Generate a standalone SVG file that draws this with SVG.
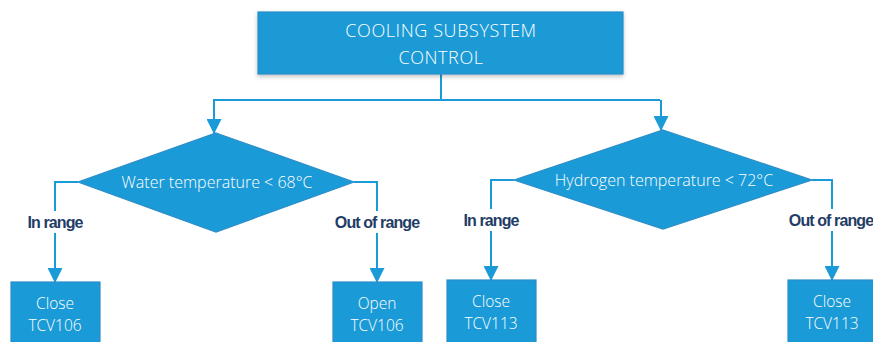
<svg xmlns="http://www.w3.org/2000/svg" width="873" height="342" viewBox="0 0 873 342">
<defs>
<style>
.shape{fill:#1a9ad6;stroke:#2c8ec8;stroke-width:1.2}
.w{fill:#ffffff;font-family:"Open Sans","Liberation Sans",sans-serif;font-weight:300;text-anchor:middle}
.lbl{fill:#1f3d66;font-family:"Liberation Sans",sans-serif;font-weight:bold;font-size:16px;text-anchor:middle;letter-spacing:-0.9px}
.ln{fill:none;stroke:#1a9ad6;stroke-width:2}
</style>
<marker id="ah" markerWidth="15" markerHeight="15" refX="14" refY="7.5" orient="auto" markerUnits="userSpaceOnUse" viewBox="0 0 15 15">
<path d="M0,0 L15,7.5 L0,15 z" fill="#1a9ad6"/>
</marker>
<filter id="sh" x="-10%" y="-20%" width="120%" height="150%">
<feDropShadow dx="0" dy="2" stdDeviation="2" flood-color="#000" flood-opacity="0.25"/>
</filter>
</defs>
<g id="connectors">
<path class="ln" d="M441,74 V100"/>
<path class="ln" d="M213,100 H660"/>
<path class="ln" d="M214,100 V133" marker-end="url(#ah)"/>
<path class="ln" d="M661,100 V130" marker-end="url(#ah)"/>
<path class="ln" d="M78,182 H55 V211"/>
<path class="ln" d="M55,233 V282" marker-end="url(#ah)"/>
<path class="ln" d="M354,182 H377 V211"/>
<path class="ln" d="M377,233 V282" marker-end="url(#ah)"/>
<path class="ln" d="M514,180 H491 V209"/>
<path class="ln" d="M491,231 V280" marker-end="url(#ah)"/>
<path class="ln" d="M812,180 H832 V209"/>
<path class="ln" d="M832,231 V280" marker-end="url(#ah)"/>
<text class="lbl" x="55" y="228">In range</text>
<text class="lbl" x="377" y="228">Out of range</text>
<text class="lbl" x="491" y="226">In range</text>
<text class="lbl" x="831" y="226">Out of range</text>
</g>
<g id="top">
<rect class="shape" x="258" y="12" width="365" height="62" filter="url(#sh)"/>
<text class="w" x="441" y="37" font-size="18" letter-spacing="0.6">COOLING SUBSYSTEM</text>
<text class="w" x="441" y="64" font-size="18" letter-spacing="0.6">CONTROL</text>
</g>
<g id="d1">
<polygon class="shape" points="216,133 354,182 216,232 78,182"/>
<text class="w" x="217" y="188" font-size="16">Water temperature &lt; 68°C</text>
</g>
<g id="d2">
<polygon class="shape" points="663,130 812,180 663,229 514,180"/>
<text class="w" x="664" y="186" font-size="16">Hydrogen temperature &lt; 72°C</text>
</g>
<g id="b1">
<rect class="shape" x="11" y="282" width="89" height="70"/>
<text class="w" x="55" y="309" font-size="15.5">Close</text>
<text class="w" x="55" y="331" font-size="15.5">TCV106</text>
</g>
<g id="b2">
<rect class="shape" x="333" y="282" width="89" height="70"/>
<text class="w" x="377" y="309" font-size="15.5">Open</text>
<text class="w" x="377" y="331" font-size="15.5">TCV106</text>
</g>
<g id="b3">
<rect class="shape" x="447" y="280" width="89" height="70"/>
<text class="w" x="491" y="307" font-size="15.5">Close</text>
<text class="w" x="491" y="329" font-size="15.5">TCV113</text>
</g>
<g id="b4">
<rect class="shape" x="788" y="280" width="89" height="70"/>
<text class="w" x="832" y="307" font-size="15.5">Close</text>
<text class="w" x="832" y="329" font-size="15.5">TCV113</text>
</g>
</svg>
